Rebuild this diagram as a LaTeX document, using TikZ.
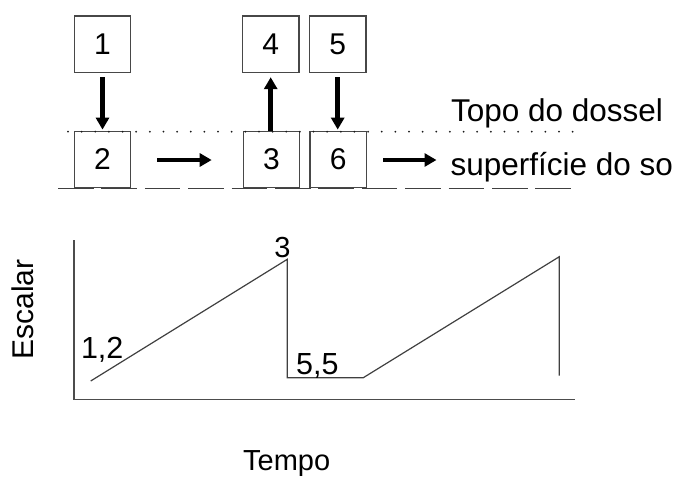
\documentclass[tikz,border=0pt]{standalone}
\usepackage{fontspec}
\setmainfont{Liberation Sans}
\usetikzlibrary{arrows.meta}
\begin{document}
\begin{tikzpicture}[x=1pt,y=-1pt,
  boxnode/.style={draw=black!72,line width=1.3pt,minimum width=56.5pt,minimum height=56.5pt,inner sep=0pt,font=\fontsize{30}{34}\selectfont},
  bigarrow/.style={line width=4.6pt,-{Triangle[length=12pt,width=13pt]}},
  toplabel/.style={inner sep=0pt,anchor=base west,font=\fontsize{31.5}{36}\selectfont},
  chartlabel/.style={inner sep=0pt,font=\fontsize{30.5}{34}\selectfont},
  axisline/.style={draw=black!70,line width=1.5pt},
  curveline/.style={draw=black!75,line width=1.2pt,line join=miter}]
\useasboundingbox (0,0) rectangle (673,477);
% boxes
\node[boxnode] (b1) at (102.5,44.3) {1};
\node[boxnode] (b4) at (270.7,44.3) {4};
\node[boxnode] (b5) at (337.7,44.3) {5};
\node[boxnode] (b2) at (102.5,159.5) {2};
\node[boxnode] (b3) at (271.5,159.5) {3};
\node[boxnode] (b6) at (338.3,159.5) {6};
% canopy top (dotted) and ground surface (dashed)
\coordinate (dotL) at (68,131.7);
\coordinate (dotR) at (573.5,131.7);
\coordinate (dashL) at (58,188.3);
\coordinate (dashR) at (573.4,188.3);
\draw[black!90,line width=2pt,line cap=round,dash pattern=on 0pt off 13.64pt] (dotL) -- (dotR);
\draw[black!75,line width=1.3pt,dash pattern=on 35.5pt off 7.9pt] (dashL) -- (dashR);
% vertical arrows
\draw[bigarrow,shorten <=4pt,shorten >=1pt] (b1.south) -- (b2.north);
\draw[bigarrow,shorten >=4pt] (b4.south |- b3.north) -- (b4.south);
\draw[bigarrow,shorten <=4pt,shorten >=1pt] (b5.south) -- (b5.south |- b6.north);
% horizontal arrows
\coordinate (h1s) at (157.3,160);
\coordinate (h1e) at (211.7,160);
\coordinate (h2s) at (383,160);
\coordinate (h2e) at (436.5,160);
\draw[bigarrow] (h1s) -- (h1e);
\draw[bigarrow] (h2s) -- (h2e);
% labels
\node[toplabel] (ttop) at (450.8,121.7) {Topo do dossel};
\node[toplabel] (tsurf) at (450.3,175) {superfície do so};
% chart
\coordinate (ax0) at (74,399.5);
\draw[axisline] (74,240) -- (ax0) -- (575,399.5);
\draw[curveline] (90.7,381) -- (287.3,259.3) -- (287.3,377.7) -- (363.3,377.7) -- (559.3,256.7) -- (559.3,375.7);
\node[chartlabel,anchor=base,font=\fontsize{29}{33}\selectfont] (l3) at (282.5,257.3) {3};
\node[chartlabel,anchor=base west] (l12) at (80.8,358.3) {1,2};
\node[chartlabel,anchor=base west] (l55) at (296,374) {5,5};
\node[inner sep=0pt,anchor=base,rotate=90,font=\fontsize{30}{34}\selectfont] (esc) at (33.3,309.5) {Escalar};
\node[inner sep=0pt,anchor=base,font=\fontsize{29}{33}\selectfont] (tempo) at (286.7,470.3) {Tempo};
\end{tikzpicture}
\end{document}
